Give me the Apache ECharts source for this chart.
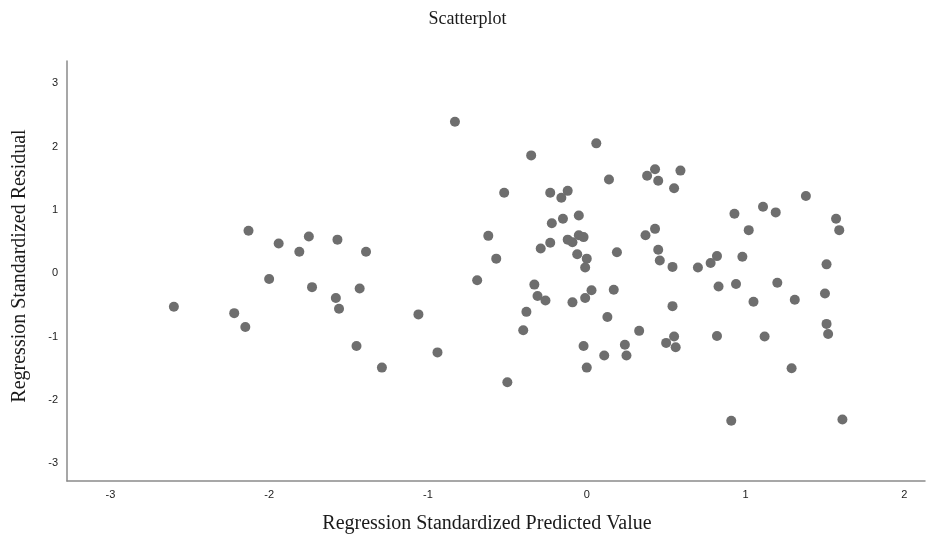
<!DOCTYPE html>
<html>
<head>
<meta charset="utf-8">
<script src="https://cdn.jsdelivr.net/npm/echarts@6/dist/echarts.min.js"></script>
<style>html,body{margin:0;padding:0;background:#fff}#c{width:935px;height:540px}</style>
</head>
<body>
<div id="c"></div>
<script>
const predicted = [
  -2.13,-1.94,-1.75,-1.81,-1.57,-1.39,-2.00,-1.73,-1.43,-1.58,-1.56,-2.60,-2.22,-2.15,-1.45,-1.29,
  -0.83,-0.52,-0.62,-0.57,-0.69,-1.06,-0.94,-0.50,
  0.06,-0.35,0.14,-0.23,-0.12,-0.16,-0.05,-0.15,-0.22,-0.05,-0.02,-0.12,-0.09,-0.23,-0.29,0.19,-0.06,0.00,-0.01,-0.33,
  -0.31,-0.26,-0.38,-0.40,-0.09,-0.01,0.03,0.17,0.13,-0.02,0.11,0.00,0.24,0.25,
  0.43,0.38,0.45,0.59,0.55,1.38,0.93,1.11,1.19,1.57,1.59,1.02,0.43,0.37,0.45,0.46,0.54,0.70,0.78,0.82,0.98,1.51,
  0.83,0.94,1.20,1.50,1.05,1.31,0.54,1.51,1.52,0.33,0.50,0.55,0.56,0.82,1.12,1.29,0.91,1.61
];
const residual = [
  0.67,0.47,0.58,0.34,0.53,0.34,-0.09,-0.22,-0.24,-0.39,-0.56,-0.53,-0.63,-0.85,-1.15,-1.49,
  2.39,1.27,0.59,0.23,-0.11,-0.65,-1.25,-1.72,
  2.05,1.86,1.48,1.27,1.30,1.19,0.91,0.86,0.79,0.60,0.57,0.53,0.49,0.48,0.39,0.33,0.30,0.23,0.09,-0.18,
  -0.36,-0.43,-0.61,-0.90,-0.46,-0.39,-0.27,-0.26,-0.69,-1.15,-1.30,-1.49,-1.13,-1.30,
  1.64,1.54,1.46,1.62,1.34,1.22,0.94,1.05,0.96,0.86,0.68,0.68,0.70,0.60,0.37,0.20,0.10,0.09,0.16,0.27,0.26,0.14,
  -0.21,-0.17,-0.15,-0.32,-0.45,-0.42,-0.52,-0.80,-0.96,-0.91,-1.10,-1.00,-1.17,-0.99,-1.00,-1.50,-2.33,-2.31
];
const xTicks = [-3,-2,-1,0,1,2];
const yTicks = [-3,-2,-1,0,1,2,3];

const points = predicted.map((v, i) => [v, residual[i]]);
const chart = echarts.init(document.getElementById('c'), null, {renderer: 'canvas'});
chart.setOption({
  animation: false,
  backgroundColor: '#ffffff',
  title: {
    text: 'Scatterplot', left: 'center', top: 5,
    textStyle: {fontFamily: 'Liberation Serif', fontWeight: 'normal', fontSize: 18, color: '#1a1a1a'}
  },
  grid: {left: 67, right: 10, top: 61, bottom: 59},
  xAxis: {
    type: 'value', min: -3.273, max: 2.13,
    name: 'Regression Standardized Predicted Value', nameLocation: 'middle', nameGap: 33,
    nameTextStyle: {fontFamily: 'Liberation Serif', fontSize: 20, color: '#1a1a1a', padding: [0, 18, 0, 0]},
    axisLine: {show: true, onZero: false, lineStyle: {color: '#8a8a8a', width: 1.5}},
    axisTick: {show: false},
    splitLine: {show: false},
    axisLabel: {customValues: xTicks, margin: 8, fontFamily: 'Liberation Sans', fontSize: 11, color: '#222'}
  },
  yAxis: {
    type: 'value', min: -3.28, max: 3.35,
    name: 'Regression Standardized Residual', nameLocation: 'middle', nameGap: 37,
    nameTextStyle: {fontFamily: 'Liberation Serif', fontSize: 20, color: '#1a1a1a', padding: [0, 0, 0, 10]},
    axisLine: {show: true, onZero: false, lineStyle: {color: '#8a8a8a', width: 1.5}},
    axisTick: {show: false},
    splitLine: {show: false},
    axisLabel: {customValues: yTicks, margin: 9, fontFamily: 'Liberation Sans', fontSize: 11, color: '#222'}
  },
  series: [{
    type: 'scatter', data: points, symbol: 'circle', symbolSize: 10,
    itemStyle: {color: '#6e6e6e', opacity: 1}
  }]
});
</script>
</body>
</html>
